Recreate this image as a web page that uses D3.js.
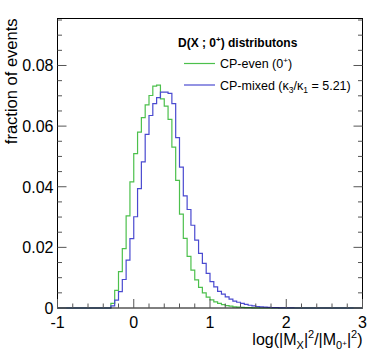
<!DOCTYPE html>
<html>
<head>
<meta charset="utf-8">
<script src="https://cdn.jsdelivr.net/npm/d3@7"></script>
<style>
  body { margin: 0; background: #fff; }
  text { font-family: "Liberation Sans", Arial, sans-serif; fill: #000; }
</style>
</head>
<body>
<div id="chart"></div>
<script>
// histogram binning (80 bins of 0.05 between -1 and 3)
const xRange = [-1, 3];
const binWidth = 0.05;
const firstBin = -0.30;

// CP-even (0+)
const evenValues = [
  0.0015, 0.0058, 0.0120, 0.0196, 0.0304, 0.0416, 0.0509, 0.0580, 0.0628, 0.0670,
  0.0701, 0.0732, 0.0735, 0.0690, 0.0666, 0.0622, 0.0531, 0.0421, 0.0310, 0.0230,
  0.0170, 0.0125, 0.0093, 0.0068, 0.0050, 0.0036, 0.0027, 0.0020, 0.0015, 0.0011,
  0.0008, 0.0006, 0.0004, 0.0003, 0.0002, 0.00015, 0.0001, 0.00006, 0.00003
];

// CP-mixed (k3/k1 = 5.21)
const mixedValues = [
  0.0007, 0.0026, 0.0054, 0.0094, 0.0158, 0.0229, 0.0301, 0.0394, 0.0482, 0.0573,
  0.0635, 0.0674, 0.0694, 0.0712, 0.0712, 0.0708, 0.0674, 0.0562, 0.0465, 0.0370,
  0.0325, 0.0273, 0.0224, 0.0180, 0.0147, 0.0114, 0.0087, 0.0070, 0.0055, 0.0046,
  0.0037, 0.0029, 0.0023, 0.0019, 0.0015, 0.0012, 0.0009, 0.0007, 0.0005, 0.0004,
  0.0003, 0.0002, 0.00015, 0.0001, 0.00007, 0.00005, 0.00003, 0.00002
];

const yTicks = [0, 0.02, 0.04, 0.06, 0.08];
const xTicks = [-1, 0, 1, 2, 3];

let width = 382,
    height = 363,
    margin = {top: 18.5, right: 19.5, bottom: 55, left: 57.5},
    greenCol = "#4cc04c",
    blueCol = "#4a4ad0";

let svg = d3.select("#chart")
    .append("svg")
    .attr("width", width)
    .attr("height", height);

let x = d3.scaleLinear().domain(xRange).range([margin.left, width - margin.right]);
let y = d3.scaleLinear().domain([0, 0.0955]).range([height - margin.bottom, margin.top]);

// turn a list of bin contents into step points across the whole axis
function steps(values) {
    let start = Math.round((firstBin - xRange[0]) / binWidth);
    let lo0 = xRange[0] + start * binWidth;
    let pts = [[xRange[0], 0], [lo0, 0]];
    values.forEach(function (v, i) {
        let lo = xRange[0] + (start + i) * binWidth;
        pts.push([lo, v]);
        pts.push([lo + binWidth, v]);
    });
    pts.push([pts[pts.length - 1][0], 0]);
    pts.push([xRange[1], 0]);
    return pts;
}

let line = d3.line()
    .x(d => x(d[0]))
    .y(d => y(d[1]));

svg.append("path")
    .datum(steps(evenValues))
    .attr("fill", "none")
    .attr("stroke", greenCol)
    .attr("stroke-width", 1.2)
    .attr("d", line);

svg.append("path")
    .datum(steps(mixedValues))
    .attr("fill", "none")
    .attr("stroke", blueCol)
    .attr("stroke-width", 1.2)
    .attr("d", line);

// frame
svg.append("rect")
    .attr("x", x(xRange[0]))
    .attr("y", margin.top)
    .attr("width", x(xRange[1]) - x(xRange[0]))
    .attr("height", y(0) - margin.top)
    .attr("fill", "none")
    .attr("stroke", "#000")
    .attr("stroke-width", 1);

// axes with ROOT style ticks (inside the frame)
let yMinor = d3.range(0, 0.0951, 0.005);
let xMinor = d3.range(-1, 3.001, 0.2);

let axes = svg.append("g").attr("stroke", "#555").attr("stroke-width", 1);

yMinor.forEach(function (v) {
    let major = yTicks.some(t => Math.abs(t - v) < 1e-9);
    let len = major ? 9 : 4.5;
    axes.append("line")
        .attr("x1", x(xRange[0])).attr("x2", x(xRange[0]) + len)
        .attr("y1", y(v)).attr("y2", y(v));
    axes.append("line")
        .attr("x1", x(xRange[1])).attr("x2", x(xRange[1]) - len)
        .attr("y1", y(v)).attr("y2", y(v));
});

xMinor.forEach(function (v) {
    let major = xTicks.some(t => Math.abs(t - v) < 1e-9);
    let len = major ? 9 : 4.5;
    axes.append("line")
        .attr("x1", x(v)).attr("x2", x(v))
        .attr("y1", y(0)).attr("y2", y(0) - len);
});

svg.selectAll(".ylab")
    .data(yTicks)
    .enter()
    .append("text")
    .attr("class", "ylab")
    .attr("x", x(xRange[0]) - 4)
    .attr("y", d => y(d) + 6)
    .attr("text-anchor", "end")
    .attr("font-size", 16)
    .text(d => d === 0 ? "0" : d.toFixed(2));

svg.selectAll(".xlab")
    .data(xTicks)
    .enter()
    .append("text")
    .attr("class", "xlab")
    .attr("x", d => x(d))
    .attr("y", 328)
    .attr("text-anchor", "middle")
    .attr("font-size", 16)
    .text(d => d);

// axis titles
svg.append("text")
    .attr("transform", "translate(17," + margin.top + ") rotate(-90)")
    .attr("text-anchor", "end")
    .attr("font-size", 16.5)
    .text("fraction of events");

let xt = svg.append("text")
    .attr("x", x(xRange[1]))
    .attr("y", 345)
    .attr("text-anchor", "end")
    .attr("font-size", 16);
xt.append("tspan").text("log(|M");
xt.append("tspan").attr("font-size", 11).attr("dy", 4).text("X");
xt.append("tspan").attr("dy", -4).text("|");
xt.append("tspan").attr("font-size", 11).attr("dy", -7).text("2");
xt.append("tspan").attr("dy", 7).text("/|M");
xt.append("tspan").attr("font-size", 11).attr("dy", 4).text("0");
xt.append("tspan").attr("font-size", 8).attr("dy", -3).text("+");
xt.append("tspan").attr("dy", -1).text("|");
xt.append("tspan").attr("font-size", 11).attr("dy", -7).text("2");
xt.append("tspan").attr("dy", 7).text(")");

// legend
let lg = svg.append("g");
let head = lg.append("text")
    .attr("x", 178)
    .attr("y", 47)
    .attr("font-size", 12)
    .attr("font-weight", "bold");
head.append("tspan").text("D(X ; 0");
head.append("tspan").attr("font-size", 8).attr("dy", -5).text("+");
head.append("tspan").attr("dy", 5).text(") distributons");

lg.append("line")
    .attr("x1", 184).attr("x2", 215).attr("y1", 63.5).attr("y2", 63.5)
    .attr("stroke", greenCol).attr("stroke-width", 1.2);
let e1 = lg.append("text").attr("x", 220).attr("y", 68).attr("font-size", 12.5);
e1.append("tspan").text("CP-even (0");
e1.append("tspan").attr("font-size", 8).attr("dy", -5).text("+");
e1.append("tspan").attr("dy", 5).text(")");

lg.append("line")
    .attr("x1", 184).attr("x2", 215).attr("y1", 85).attr("y2", 85)
    .attr("stroke", blueCol).attr("stroke-width", 1.2);
let e2 = lg.append("text").attr("x", 220).attr("y", 89.5).attr("font-size", 12.5);
e2.append("tspan").text("CP-mixed (\u03ba");
e2.append("tspan").attr("font-size", 8.5).attr("dy", 3).text("3");
e2.append("tspan").attr("dy", -3).text("/\u03ba");
e2.append("tspan").attr("font-size", 8.5).attr("dy", 3).text("1");
e2.append("tspan").attr("dy", -3).text(" = 5.21)");
</script>
</body>
</html>
